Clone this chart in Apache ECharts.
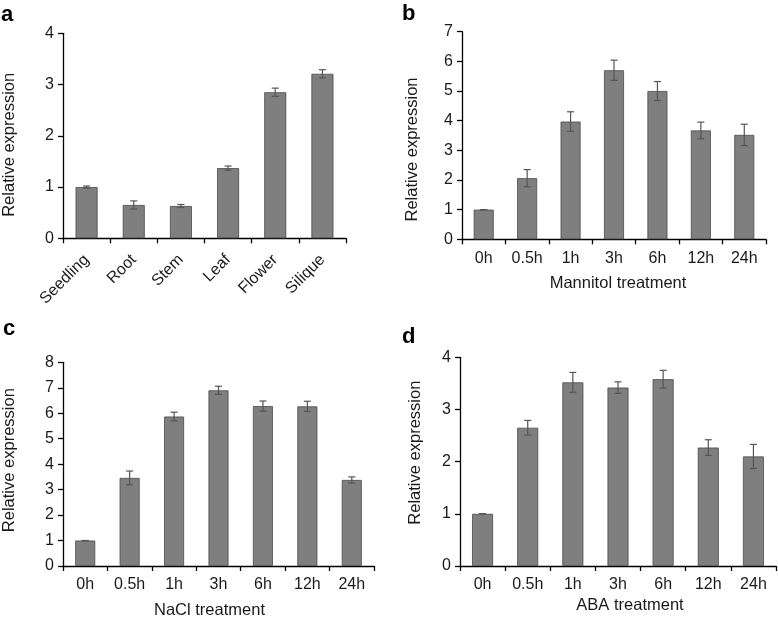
<!DOCTYPE html>
<html>
<head>
<meta charset="utf-8">
<script src="https://cdn.jsdelivr.net/npm/echarts@6/dist/echarts.min.js"></script>
<style>html,body{margin:0;padding:0;background:#fff;}#c{width:778px;height:620px;}</style>
</head>
<body>
<div id="c"></div>
<script>
// Panel a: tissues
var tissueCats = ['Seedling', 'Root', 'Stem', 'Leaf', 'Flower', 'Silique'];
var tissueVals = [1.0, 0.65, 0.63, 1.37, 2.85, 3.21];
var tissueErr  = [0.02, 0.08, 0.03, 0.04, 0.08, 0.08];

// Time points for treatments
var timeCats = ['0h', '0.5h', '1h', '3h', '6h', '12h', '24h'];

// Panel b: Mannitol
var mannitolVals = [1.0, 2.06, 3.97, 5.70, 5.0, 3.67, 3.52];
var mannitolErr  = [0.0, 0.29, 0.33, 0.34, 0.32, 0.28, 0.36];

// Panel c: NaCl
var naclVals = [1.0, 3.46, 5.87, 6.90, 6.28, 6.27, 3.38];
var naclErr  = [0.0, 0.27, 0.17, 0.16, 0.20, 0.20, 0.12];

// Panel d: ABA
var abaVals = [1.0, 2.65, 3.52, 3.42, 3.58, 2.27, 2.10];
var abaErr  = [0.0, 0.14, 0.19, 0.11, 0.17, 0.15, 0.23];

// Axis ranges
var yMax = [4, 7, 8, 4];
var xNames = ['', 'Mannitol treatment', 'NaCl treatment', 'ABA treatment'];
var panelLetters = ['a', 'b', 'c', 'd'];

var FONT = 'Liberation Sans, Arial, sans-serif';
var grids = [
  {left: 60, top: 33.3, width: 286, height: 205},
  {left: 462, top: 31.7, width: 304, height: 207.6},
  {left: 60, top: 362.3, width: 314, height: 204.4},
  {left: 460, top: 357.3, width: 316, height: 208.7}
];
var yNameGap = [45, 41, 45, 36];
var yNamePad = [[0, 18, 0, 0], [0, 28, 0, 0], [0, 0, 0, 8], [0, 0, 0, 18]];
var xNameGap = [37, 36, 36, 31];
var xNamePad = [[0, 0, 0, 0], [0, 0, 0, 8], [0, 18, 0, 0], [0, 0, 0, 24]];
var barWidths = [22, 20, 20, 21];
var cats = [tissueCats, timeCats, timeCats, timeCats];
var vals = [tissueVals, mannitolVals, naclVals, abaVals];
var errs = [tissueErr, mannitolErr, naclErr, abaErr];

var xAxes = [], yAxes = [], series = [];
for (var i = 0; i < 4; i++) {
  xAxes.push({
    type: 'category', gridIndex: i, data: cats[i],
    name: xNames[i], nameLocation: 'middle', nameGap: xNameGap[i],
    nameTextStyle: {fontFamily: FONT, fontSize: 16.5, color: '#1a1a1a', padding: xNamePad[i]},
    axisLine: {lineStyle: {color: '#000', width: 1.3}},
    axisTick: {show: true, length: 5, lineStyle: {color: '#000', width: 1.3}},
    axisLabel: {fontFamily: FONT, fontSize: 16, color: '#1a1a1a', margin: i === 0 ? 19 : 11,
      rotate: i === 0 ? 45 : 0, interval: 0},
    splitLine: {show: false}
  });
  yAxes.push({
    type: 'value', gridIndex: i, min: 0, max: yMax[i], interval: 1,
    name: 'Relative expression', nameLocation: 'middle', nameGap: yNameGap[i], nameRotate: 90,
    nameTextStyle: {fontFamily: FONT, fontSize: 16.5, color: '#1a1a1a', padding: yNamePad[i]},
    axisLine: {show: true, lineStyle: {color: '#000', width: 1.3}},
    axisTick: {show: true, length: 5, lineStyle: {color: '#000', width: 1.3}},
    axisLabel: {fontFamily: FONT, fontSize: 16, color: '#1a1a1a', margin: 9},
    splitLine: {show: false}
  });
  series.push({
    type: 'bar', xAxisIndex: i, yAxisIndex: i, data: vals[i], barWidth: barWidths[i],
    itemStyle: {color: '#7f7f7f', borderColor: '#4a4a4a', borderWidth: 0.8},
    silent: true, animation: false
  });
  (function (v, e) {
    var d = v.map(function (x, k) { return [k, x, e[k]]; });
    series.push({
      type: 'custom', xAxisIndex: i, yAxisIndex: i, data: d, animation: false, silent: true, z: 5,
      renderItem: function (params, api) {
        var k = api.value(0), m = api.value(1), s = api.value(2);
        var hi = api.coord([k, m + s]);
        var lo = api.coord([k, m - s]);
        var cap = 3.5;
        var st = {stroke: '#555', lineWidth: 1.2};
        return {type: 'group', children: [
          {type: 'line', shape: {x1: hi[0], y1: hi[1], x2: lo[0], y2: lo[1]}, style: st},
          {type: 'line', shape: {x1: hi[0] - cap, y1: hi[1], x2: hi[0] + cap, y2: hi[1]}, style: st},
          {type: 'line', shape: {x1: lo[0] - cap, y1: lo[1], x2: lo[0] + cap, y2: lo[1]}, style: st}
        ]};
      }
    });
  })(vals[i], errs[i]);
}

var letterPos = [[1, 4], [402, 3], [3, 318], [402, 326]];
var graphics = panelLetters.map(function (l, k) {
  return {type: 'text', left: letterPos[k][0], top: letterPos[k][1],
    style: {text: l, font: 'bold 22px ' + FONT, fill: '#000'}};
});

var chart = echarts.init(document.getElementById('c'), null, {renderer: 'canvas'});
chart.setOption({
  animation: false,
  backgroundColor: '#fff',
  grid: grids,
  xAxis: xAxes,
  yAxis: yAxes,
  series: series,
  graphic: graphics
});
</script>
</body>
</html>
